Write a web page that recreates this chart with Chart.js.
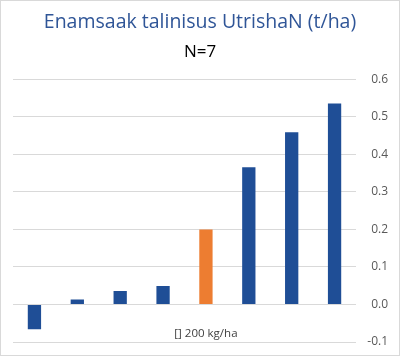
<!DOCTYPE html>
<html><head><meta charset="utf-8">
<script src="https://cdn.jsdelivr.net/npm/chart.js@4.4.1/dist/chart.umd.min.js"></script>
<style>
html,body{margin:0;padding:0;background:#fff;}
#wrap{width:398px;height:354px;border:1px solid #d9d9d9;}
</style></head>
<body><div id="wrap"><canvas id="c" width="398" height="354"></canvas></div>
<script>
const categories = ['', '', '', '', '[] 200 kg/ha', '', '', ''];
const values = [-0.066, 0.013, 0.036, 0.049, 0.2, 0.366, 0.459, 0.536];
const barColors = ['#1F4E96','#1F4E96','#1F4E96','#1F4E96','#ED7D31','#1F4E96','#1F4E96','#1F4E96'];
const yTicks = [-0.1, 0.0, 0.1, 0.2, 0.3, 0.4, 0.5, 0.6];
const titleText = 'Enamsaak talinisus UtrishaN (t/ha)';
const subtitleText = 'N=7';

const centerTitles = {
  id: 'centerTitles',
  afterLayout(chart) {
    chart.boxes.forEach(b => {
      if (b.options && b.options.text !== undefined && b.position === 'top') {
        b.left = 0; b.right = chart.width; b.width = chart.width;
      }
    });
  }
};

new Chart(document.getElementById('c'), {
  type: 'bar',
  data: { labels: categories, datasets: [{ data: values, backgroundColor: barColors, categoryPercentage: 1.0, barPercentage: 0.31 }] },
  options: {
    responsive: false, animation: false,
    layout: { padding: { left: 12, right: 11, bottom: 13, top: 6 } },
    plugins: {
      legend: { display: false }, tooltip: { enabled: false },
      title: { display: true, text: titleText, color: '#2F5597', font: { family: 'Open Sans', size: 19.5, weight: 'normal' }, padding: { top: 4.2, bottom: 7.4 } },
      subtitle: { display: true, text: subtitleText, color: '#000', font: { family: 'Open Sans', size: 17 }, padding: { top: 0, bottom: 17 } }
    },
    scales: {
      x: {
        position: { y: 0 },
        afterFit: s => { s.height = 0; },
        grid: { display: false, drawTicks: false },
        border: { display: false },
        ticks: { color: '#404040', font: { family: 'Open Sans', size: 11.5 }, padding: 22, maxRotation: 0, autoSkip: false }
      },
      y: {
        position: 'right', min: -0.1, max: 0.6,
        afterBuildTicks: s => { s.ticks = yTicks.map(v => ({ value: v })); },
        afterFit: s => { s.width = 32; },
        grid: { color: '#d9d9d9', drawTicks: false },
        border: { display: false },
        ticks: { color: '#595959', font: { family: 'Open Sans', size: 12 }, padding: 0, crossAlign: 'far', callback: v => v.toFixed(1) }
      }
    }
  },
  plugins: [centerTitles]
});
</script></body></html>
